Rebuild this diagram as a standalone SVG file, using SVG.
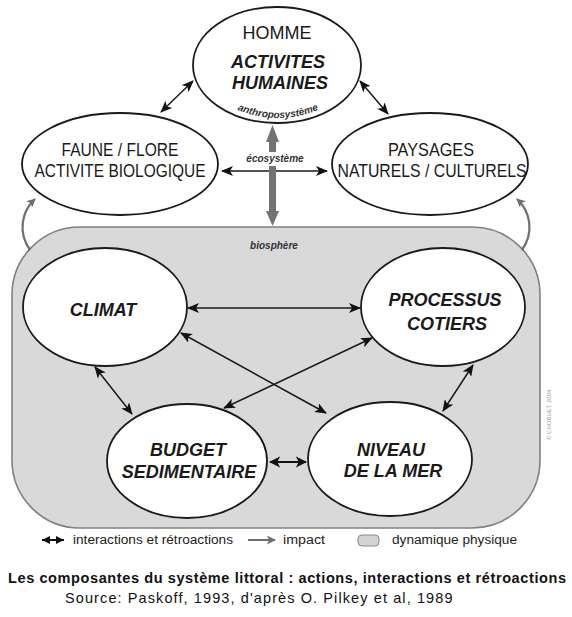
<svg xmlns="http://www.w3.org/2000/svg" width="572" height="617" viewBox="0 0 572 617">
<defs>
<style>
.ell{fill:#fff;stroke:#1a1a1a;stroke-width:1.8}
.t{font-family:"Liberation Sans",Arial,sans-serif;fill:#1a1a1a;text-anchor:middle}
.bi{font-weight:bold;font-style:italic;font-size:18px}
.reg{font-size:18px}
.sm{font-family:"Liberation Sans",Arial,sans-serif;font-style:italic;font-weight:bold;font-size:10px;fill:#333;text-anchor:middle}
.lk{fill:none;stroke:#1a1a1a;stroke-width:1.5;marker-start:url(#ah);marker-end:url(#ah)}
.gr{fill:none;stroke:#6e6e6e;stroke-width:2.2;marker-end:url(#gh)}
.leg{font-family:"Liberation Sans",Arial,sans-serif;font-size:12.5px;fill:#222}
</style>
<marker id="ah" viewBox="0 0 12 10" refX="11" refY="5" markerWidth="12" markerHeight="10" markerUnits="userSpaceOnUse" orient="auto-start-reverse">
<path d="M0,0 L12,5 L0,10 L3,5 z" fill="#111"/>
</marker>
<marker id="gh" viewBox="0 0 10 10" refX="9" refY="5" markerWidth="10" markerHeight="9" markerUnits="userSpaceOnUse" orient="auto">
<path d="M0,0 L10,5 L0,10 L2.5,5 z" fill="#6e6e6e"/>
</marker>
<marker id="bh" viewBox="0 0 12 12" refX="11" refY="6" markerWidth="11" markerHeight="12" markerUnits="userSpaceOnUse" orient="auto-start-reverse">
<path d="M0,0 L12,6 L0,12 L3,6 z" fill="#111"/>
</marker>
<marker id="lh" viewBox="0 0 10 10" refX="10" refY="5" markerWidth="8" markerHeight="9" markerUnits="userSpaceOnUse" orient="auto-start-reverse">
<path d="M0,0 L10,5 L0,10 z" fill="#111"/>
</marker>
</defs>
<rect width="572" height="617" fill="#fff"/>

<g id="biosphere">
<rect x="12" y="227" width="528" height="301" rx="68" ry="68" fill="#d9d9d9" stroke="#808080" stroke-width="1.6"/>
<text class="sm" x="274" y="249">biosphère</text>
</g>

<g id="connectors">
<path class="gr" d="M30,250 C18,233 21,212 35,199"/>
<path class="gr" d="M522,250 C534,233 531,212 517,199"/>
<path class="lk" d="M161,112 L193,81"/>
<path class="lk" d="M360,81 L388,114"/>
<path class="lk" d="M222,171 L327,171"/>
<g fill="#737373">
<rect x="269" y="140" width="7" height="12"/>
<rect x="269" y="166" width="7" height="47"/>
<path d="M266,142 L272.5,125 L279,142 z"/>
<path d="M266,211 L272.5,226 L279,211 z"/>
</g>
<text class="sm" x="275" y="162" font-size="10.5">écosystème</text>
<path class="lk" d="M188,308 L360,308"/>
<path class="lk" d="M181,333 L326,413"/>
<path class="lk" d="M372,338 L224,408"/>
<path class="lk" d="M95,367 L132,414"/>
<path class="lk" d="M473,365 L443,411"/>
<path d="M270,462 L306,462" fill="none" stroke="#111" stroke-width="2" marker-start="url(#bh)" marker-end="url(#bh)"/>
</g>

<g id="homme">
<ellipse class="ell" cx="277" cy="65" rx="84" ry="58"/>
<text class="t reg" x="277" y="39" textLength="69" lengthAdjust="spacingAndGlyphs">HOMME</text>
<text class="t bi" x="278" y="68">ACTIVITES</text>
<text class="t bi" x="280" y="89">HUMAINES</text>
<path id="arcA" d="M201,63 A77,55 0 0 0 355,63" fill="none"/>
<text class="sm" font-size="10.5"><textPath href="#arcA" startOffset="50%">anthroposystème</textPath></text>
</g>

<g id="faune">
<ellipse class="ell" cx="120" cy="164" rx="98" ry="51"/>
<text class="t reg" x="120" y="156" textLength="117" lengthAdjust="spacingAndGlyphs">FAUNE / FLORE</text>
<text class="t reg" x="120" y="177" textLength="171" lengthAdjust="spacingAndGlyphs">ACTIVITE BIOLOGIQUE</text>
</g>

<g id="paysages">
<ellipse class="ell" cx="430" cy="164" rx="98" ry="51"/>
<text class="t reg" x="431" y="156" textLength="86" lengthAdjust="spacingAndGlyphs">PAYSAGES</text>
<text class="t reg" x="432" y="177" textLength="189" lengthAdjust="spacingAndGlyphs">NATURELS / CULTURELS</text>
</g>

<g id="climat">
<ellipse class="ell" cx="105" cy="307" rx="82" ry="59"/>
<text class="t bi" x="103" y="316">CLIMAT</text>
</g>

<g id="processus">
<ellipse class="ell" cx="443" cy="307" rx="82" ry="59"/>
<text class="t bi" x="445" y="306">PROCESSUS</text>
<text class="t bi" x="447" y="330">COTIERS</text>
</g>

<g id="budget">
<ellipse class="ell" cx="187" cy="461" rx="80" ry="57"/>
<text class="t bi" x="188" y="456">BUDGET</text>
<text class="t bi" x="189" y="478">SEDIMENTAIRE</text>
</g>

<g id="niveau">
<ellipse class="ell" cx="390" cy="459" rx="82" ry="57"/>
<text class="t bi" x="391" y="456">NIVEAU</text>
<text class="t bi" x="393" y="477">DE LA MER</text>
</g>

<text x="551" y="440" transform="rotate(-90 551 440)" font-family="Liberation Sans,Arial,sans-serif" font-size="6" fill="#9a9a9a">© CHOBUET 2004</text>

<g id="legend">
<path d="M42,540 L64,540" fill="none" stroke="#111" stroke-width="2" marker-start="url(#lh)" marker-end="url(#lh)"/>
<text class="leg" x="73" y="544" textLength="160" lengthAdjust="spacingAndGlyphs">interactions et rétroactions</text>
<path d="M248,540 L275,540" fill="none" stroke="#6e6e6e" stroke-width="2" marker-end="url(#gh)"/>
<text class="leg" x="283" y="544" textLength="42" lengthAdjust="spacingAndGlyphs">impact</text>
<rect x="358" y="535" width="21" height="11" rx="4" fill="#d3d3d3" stroke="#888" stroke-width="1"/>
<text class="leg" x="392" y="544" textLength="125" lengthAdjust="spacingAndGlyphs">dynamique physique</text>
</g>

<g id="caption">
<text x="8" y="583" font-family="Liberation Sans,Arial,sans-serif" font-weight="bold" font-size="14.5" fill="#111" textLength="558" lengthAdjust="spacing">Les composantes du système littoral : actions, interactions et rétroactions</text>
<text x="65" y="603" font-family="Liberation Sans,Arial,sans-serif" font-size="14.5" fill="#111" letter-spacing="1.1">Source: Paskoff, 1993, d'après O. Pilkey et al, 1989</text>
</g>
</svg>
